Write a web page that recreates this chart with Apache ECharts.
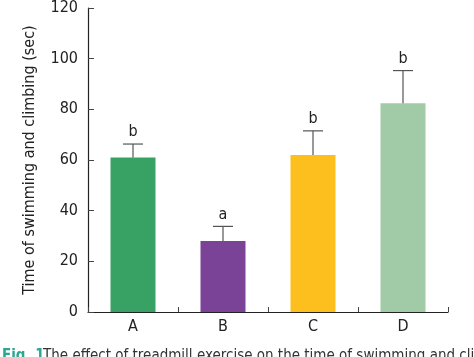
<!DOCTYPE html>
<html><head><meta charset="utf-8">
<script src="https://cdn.jsdelivr.net/npm/echarts@6/dist/echarts.min.js"></script>
<style>html,body{margin:0;padding:0;background:#fff}#c{width:474px;height:357px}</style>
</head><body><div id="c"></div>
<script>
const categories = ['A', 'B', 'C', 'D'];
const means = [61, 28, 62, 82.4];
const errors = [5.3, 5.8, 9.5, 12.9];
const letters = ['b', 'a', 'b', 'b'];
const barColors = ['#38a265', '#7a4398', '#fdbf1d', '#a0cba6'];
const yTicks = [0, 20, 40, 60, 80, 100, 120];
const FONT = '"Liberation Sans Narrow", "DejaVu Sans Condensed", "Liberation Sans", sans-serif';

const chart = echarts.init(document.getElementById('c'), null, {renderer: 'canvas'});
chart.setOption({
  animation: false,
  grid: {left: 88, right: 26, top: 7, bottom: 45},
  xAxis: {
    type: 'category', data: categories,
    axisLine: {lineStyle: {color: '#222', width: 1.2}},
    axisTick: {show: true, inside: true, length: 5, alignWithLabel: false, lineStyle: {color: '#444'}},
    axisLabel: {color: '#222', fontFamily: FONT, fontSize: 16, margin: 7}
  },
  yAxis: {
    type: 'value', min: yTicks[0], max: yTicks[yTicks.length - 1], interval: 20,
    name: 'Time of swimming and climbing (sec)', nameLocation: 'middle', nameGap: 50,
    nameTextStyle: {color: '#222', fontFamily: FONT, fontSize: 16},
    axisLine: {show: true, lineStyle: {color: '#222', width: 1.2}},
    axisTick: {show: true, inside: true, length: 6, lineStyle: {color: '#444'}},
    axisLabel: {color: '#222', fontFamily: FONT, fontSize: 16, margin: 10},
    splitLine: {show: false}
  },
  series: [
    {
      type: 'bar', barWidth: '50%',
      data: means.map((v, i) => ({value: v, itemStyle: {color: barColors[i]}}))
    },
    {
      type: 'custom', z: 5,
      data: means.map((v, i) => [i, v, v + errors[i], letters[i]]),
      renderItem: function (params, api) {
        const x = api.value(0);
        const base = api.coord([x, api.value(1)]);
        const top = api.coord([x, api.value(2)]);
        const hw = 10;
        const style = {stroke: '#555', lineWidth: 1.2};
        return {
          type: 'group',
          children: [
            {type: 'line', shape: {x1: base[0], y1: base[1], x2: top[0], y2: top[1]}, style: style},
            {type: 'line', shape: {x1: top[0] - hw, y1: top[1], x2: top[0] + hw, y2: top[1]}, style: style},
            {type: 'text', style: {text: api.value(3), x: top[0], y: top[1] - 4, align: 'center', verticalAlign: 'bottom',
              fill: '#222', font: '16px ' + FONT}}
          ]
        };
      }
    }
  ],
  graphic: [
    {type: 'text', left: 2, top: 349, style: {text: 'Fig. 1.', fill: '#2aa88f', font: 'bold 15px ' + FONT}},
    {type: 'text', left: 43, top: 349, style: {text: 'The effect of treadmill exercise on the time of swimming and climbing', fill: '#333', font: '15px ' + FONT}}
  ]
});
</script></body></html>
